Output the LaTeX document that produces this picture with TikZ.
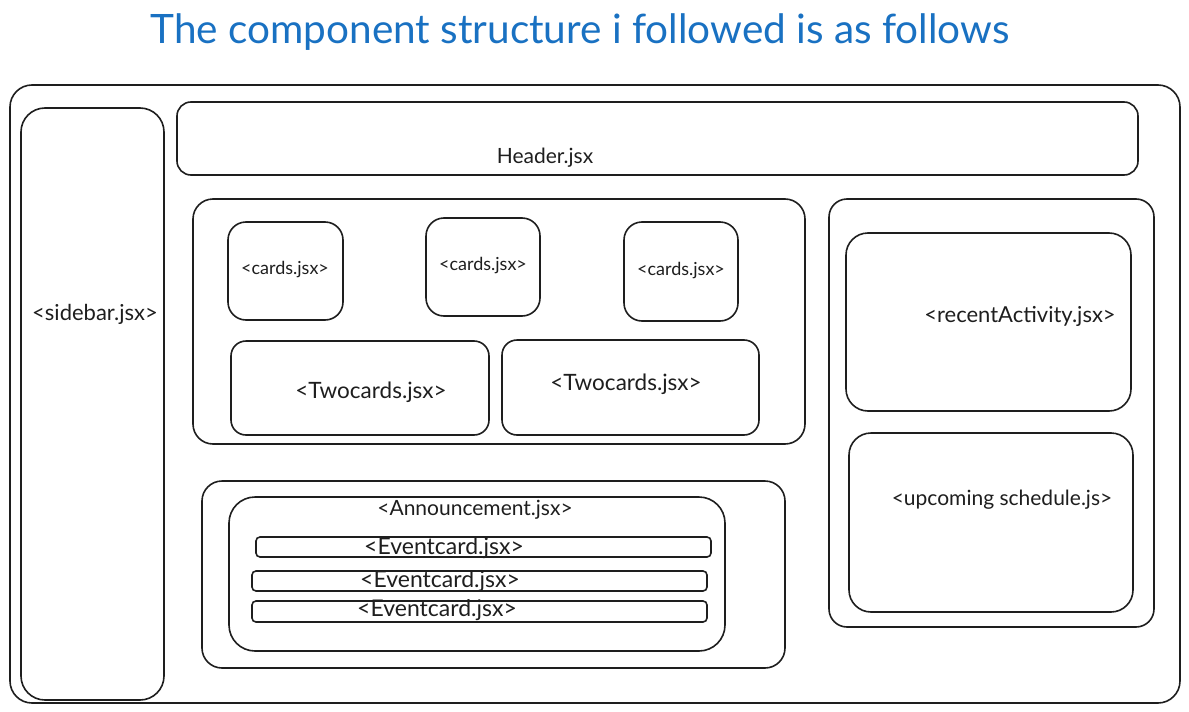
\documentclass[tikz,border=0pt]{standalone}
\usepackage{fontspec}
\setmainfont{Lato}
\definecolor{ink}{HTML}{1E1E1E}
\definecolor{titleblue}{HTML}{1971C2}
\tikzset{
  box/.style={draw=ink, line width=1.6pt, inner sep=0pt, fill=none},
  lbl/.style={text=ink, inner sep=0pt, font=\fontsize{#1}{#1}\selectfont},
  lbl/.default=21,
}
\newcommand\bx[6]{\node[box, rounded corners=#6, minimum width={#4-#2}, minimum height={#5-#3}] (#1) at ({(#2+#4)/2},{(#3+#5)/2}) {};}
\begin{document}
\begin{tikzpicture}[x=1pt,y=-1pt]
\useasboundingbox (0,0) rectangle (1189,712);
\node[text=titleblue, font=\fontsize{40.5}{44}\selectfont, inner sep=0pt] (title) at (580,32) {The component structure i followed is as follows};
% outer frame
\bx{outer}{10}{85}{1180}{703}{22pt}
\bx{sidebar}{21}{108}{164}{700}{24pt}
\node[lbl=22] (sidebartxt) at (95,314) {<sidebar.jsx>};
\bx{header}{177}{102}{1138}{175}{14pt}
\node[lbl=21] (headertxt) at (545,158) {Header.jsx};
% middle panel
\bx{middle}{193}{199}{805}{444}{20pt}
\bx{cardA}{228}{222}{343}{320}{18pt}
\node[lbl=18] (cardAtxt) at (285,270) {<cards.jsx>};
\bx{cardB}{426}{218}{540}{316}{18pt}
\node[lbl=18] (cardBtxt) at (483,266) {<cards.jsx>};
\bx{cardC}{624}{222}{738}{321}{18pt}
\node[lbl=18] (cardCtxt) at (681,271) {<cards.jsx>};
\bx{twoA}{231}{341}{489}{435}{15pt}
\node[lbl=22.5] (twoAtxt) at (371,392) {<Twocards.jsx>};
\bx{twoB}{502}{340}{759}{435}{15pt}
\node[lbl=22.5] (twoBtxt) at (626,384) {<Twocards.jsx>};
% right panel
\bx{right}{829}{199}{1154}{627}{18pt}
\bx{recent}{846}{233}{1131}{411}{22pt}
\node[lbl=22] (recenttxt) at (1020,316) {<recentActivity.jsx>};
\bx{upcoming}{849}{433}{1133}{612}{22pt}
\node[lbl=21] (upcomingtxt) at (1002,500) {<upcoming schedule.js>};
% announcement
\bx{annouter}{202}{481}{785}{668}{20pt}
\bx{anninner}{229}{497}{725}{651}{26pt}
\node[lbl=21] (anntxt) at (475,510) {<Announcement.jsx>};
\bx{evA}{256}{537}{711}{557}{4pt}
\node[lbl=23] (evAtxt) at (444,548) {<Eventcard.jsx>};
\bx{evB}{252}{571}{707}{591}{4pt}
\node[lbl=23] (evBtxt) at (440,581) {<Eventcard.jsx>};
\bx{evC}{252}{601}{707}{622}{4pt}
\node[lbl=23] (evCtxt) at (437,610) {<Eventcard.jsx>};
\end{tikzpicture}
\end{document}
